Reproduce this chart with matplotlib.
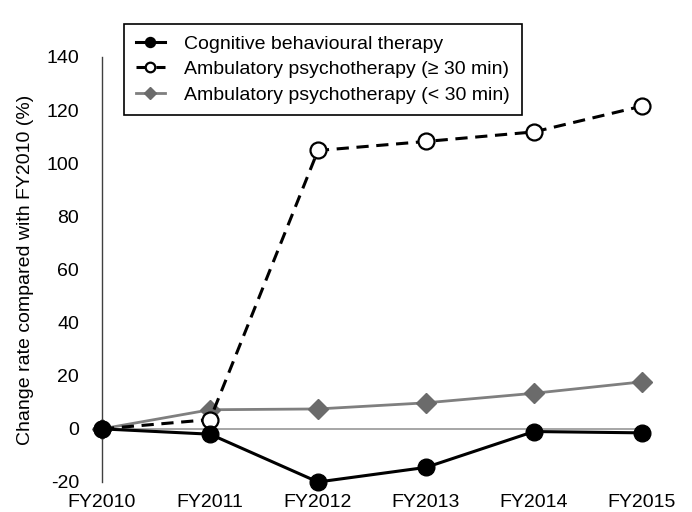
import matplotlib.pyplot as plt

plt.rcParams['font.family'] = ['Liberation Sans', 'DejaVu Sans']
plt.rcParams['axes.unicode_minus'] = False

years = ["FY2010", "FY2011", "FY2012", "FY2013", "FY2014", "FY2015"]
cbt = [0, -2, -20, -14.5, -1, -1.5]
psy_long = [0, 3.5, 104.8, 108.2, 111.8, 121.5]
psy_short = [0, 7.2, 7.5, 9.8, 13.4, 17.7]

x = list(range(len(years)))

fig = plt.figure(figsize=(6.92, 5.12), dpi=100)
ax = fig.add_axes([0.1474, 0.0586, 0.7803, 0.8301])

# thin zero line
ax.plot([x[0], x[-1]], [0, 0], color='#a6a6a6', lw=1.4, zorder=1)

ax.plot(x, cbt, color='black', lw=2.2, marker='o', ms=12,
        mfc='black', mec='black', clip_on=False, zorder=4,
        label='Cognitive behavioural therapy')
ax.plot(x, psy_long, color='black', lw=2.2, ls=(0, (4, 2.5)), marker='o', ms=11.5,
        mfc='white', mec='black', mew=1.6, clip_on=False, zorder=3,
        label='Ambulatory psychotherapy (≥ 30 min)')
ax.plot(x, psy_short, color='#7f7f7f', lw=2, marker='D', ms=10,
        mfc='#6b6b6b', mec='#6b6b6b', clip_on=False, zorder=2,
        label='Ambulatory psychotherapy (< 30 min)')

ax.set_xlim(0, 5)
ax.set_ylim(-20, 140)
ax.set_yticks(range(-20, 141, 20))
ax.set_xticks(x)
ax.set_xticklabels(years)
ax.tick_params(axis='both', length=0, labelsize=14)
ax.tick_params(axis='y', pad=16.5)
ax.tick_params(axis='x', pad=9)
for s in ['top', 'right', 'bottom']:
    ax.spines[s].set_visible(False)
ax.spines['left'].set_color('#404040')
ax.spines['left'].set_linewidth(1)

ax.set_ylabel('Change rate compared with FY2010 (%)', fontsize=14, labelpad=9)

leg = fig.legend(loc='upper left', bbox_to_anchor=(0.165, 0.973), fontsize=14,
                 markerscale=0.6, handlelength=1.5, handletextpad=1.0,
                 frameon=True, fancybox=False, edgecolor='black', framealpha=1,
                 borderpad=0.6, labelspacing=0.4)
leg.get_frame().set_linewidth(1.2)

fig.savefig('out.png', dpi=100)
